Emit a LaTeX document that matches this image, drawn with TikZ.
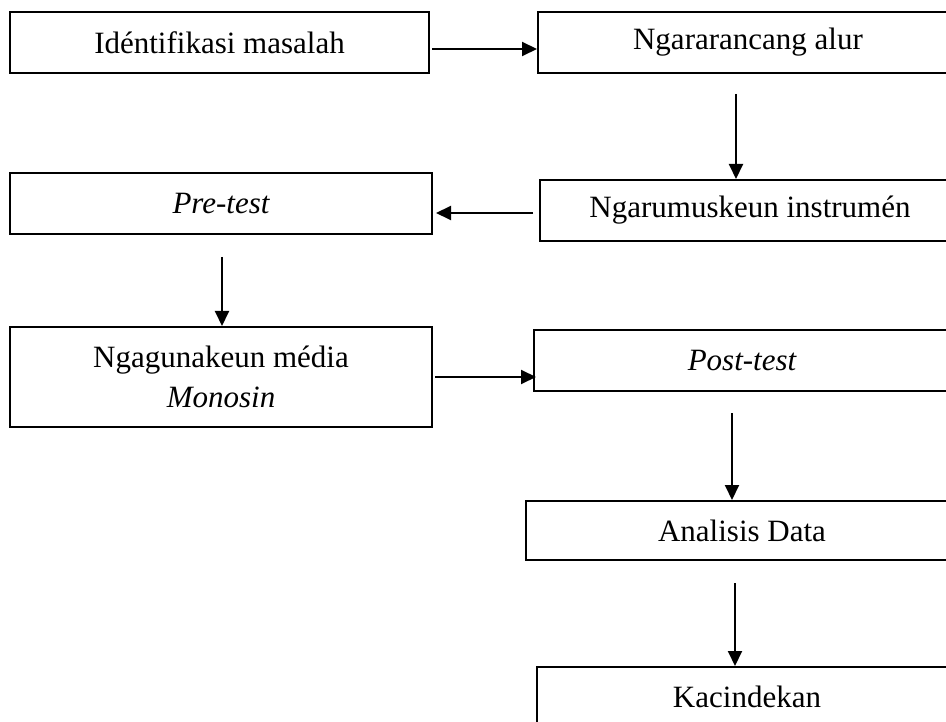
\documentclass[tikz,border=0pt]{standalone}
\usepackage{fontspec}
\setmainfont{Liberation Serif}
\usetikzlibrary{arrows.meta}
\begin{document}
\begin{tikzpicture}[x=1pt,y=-1pt,
  box/.style={draw,line width=2pt,rectangle,inner sep=0pt,align=center,
    font=\fontsize{31}{40}\selectfont},
  arr/.style={line width=2pt,-{Triangle[length=15pt,width=14pt]}}]
\useasboundingbox (0,0) rectangle (946,722);
\clip (0,0) rectangle (946,722);
\node[box,minimum width=419pt,minimum height=61pt] (b1) at (219.5,42.5) {Idéntifikasi masalah};
\node[box,minimum width=420pt,minimum height=61pt] (b2) at (748,42.5) {Ngararancang alur};
\node[box,minimum width=420pt,minimum height=61pt] (b3) at (750,210.5) {Ngarumuskeun instrumén};
\node[box,minimum width=422pt,minimum height=61pt] (b4) at (221,203.5) {\itshape Pre-test};
\node[box,minimum width=422pt,minimum height=100pt] (b5) at (221,377) {\baselineskip=40pt Ngagunakeun média\\\itshape Monosin};
\node[box,minimum width=416pt,minimum height=61pt] (b6) at (742,360.5) {\itshape Post-test};
\node[box,minimum width=432pt,minimum height=59pt] (b7) at (742,530.5) {Analisis Data};
\node[box,minimum width=420pt,minimum height=60pt] (b8) at (747,697) {Kacindekan};
\coordinate (a1) at (432,49);
\coordinate (a2) at (736,94);
\coordinate (a3) at (533,213);
\coordinate (a4) at (222,257);
\coordinate (a5) at (435,377);
\coordinate (a6) at (732,413);
\coordinate (a7) at (735,583);
\draw[arr] (a1) -- (a1 -| b2.west);
\draw[arr] (a2) -- (a2 |- b3.north);
\draw[arr] (a3) -- ([xshift=3pt]a3 -| b4.east);
\draw[arr] (a4) -- (a4 |- b5.north);
\draw[arr] (a5) -- ([xshift=3pt]a5 -| b6.west);
\draw[arr] (a6) -- (a6 |- b7.north);
\draw[arr] (a7) -- (a7 |- b8.north);
\end{tikzpicture}
\end{document}
